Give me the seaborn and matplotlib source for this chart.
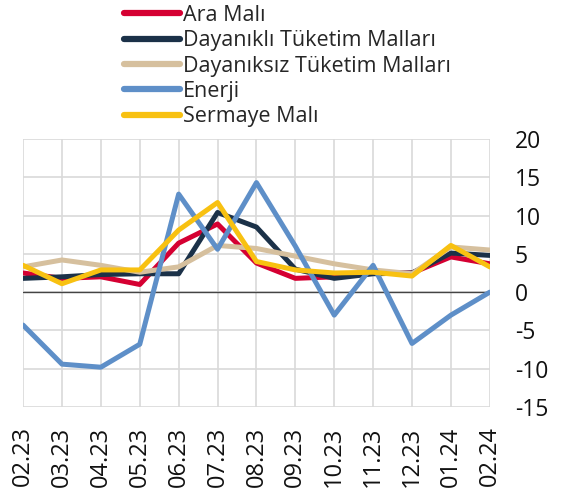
import pandas as pd
import matplotlib.pyplot as plt
import seaborn as sns

months = ['02.23', '03.23', '04.23', '05.23', '06.23', '07.23', '08.23',
          '09.23', '10.23', '11.23', '12.23', '01.24', '02.24']

ara_mali = [2.5, 1.8, 2.0, 1.0, 6.4, 8.9, 3.8, 1.8, 2.0, 2.5, 2.5, 4.6, 3.7]
dayanikli = [1.8, 2.0, 2.3, 2.4, 2.4, 10.4, 8.5, 3.0, 1.8, 2.4, 2.5, 5.1, 4.8]
dayaniksiz = [3.3, 4.2, 3.5, 2.6, 3.3, 6.1, 5.7, 4.7, 3.7, 2.9, 2.4, 5.9, 5.5]
enerji = [-4.3, -9.4, -9.8, -6.8, 12.8, 5.6, 14.3, 6.0, -3.0, 3.5, -6.7, -3.0, 0.0]
sermaye = [3.5, 1.1, 2.9, 2.9, 8.1, 11.7, 4.0, 2.9, 2.5, 2.6, 2.1, 6.1, 3.3]

series = {
    'Ara Malı': ara_mali,
    'Dayanıklı Tüketim Malları': dayanikli,
    'Dayanıksız Tüketim Malları': dayaniksiz,
    'Enerji': enerji,
    'Sermaye Malı': sermaye,
}
colors = ['#D50032', '#1B3148', '#D6C09E', '#5E8FC8', '#F8C111']

rows = []
for name, vals in series.items():
    for i, v in enumerate(vals):
        rows.append({'idx': i, 'value': v, 'series': name})
df = pd.DataFrame(rows)

sns.set_style('white')
plt.rcParams['font.family'] = ['Open Sans', 'DejaVu Sans']

fig = plt.figure(figsize=(5.63, 4.91), dpi=100)
ax = fig.add_axes([0.041, 0.171, 0.829, 0.546])

sns.lineplot(data=df, x='idx', y='value', hue='series', palette=colors,
             linewidth=3.6, ax=ax, legend=False)

ax.axhline(0, color='#444444', linewidth=1.0, zorder=1)
ax.set_xlim(0, 12)
ax.set_ylim(-15, 20)
ax.set_xticks(range(len(months)))
ax.set_xticklabels(months, rotation=90, fontsize=17)
ax.set_yticks(range(-15, 21, 5))
ax.set_yticklabels([str(t) for t in range(-15, 21, 5)], fontsize=16.5)
ax.yaxis.tick_right()
ax.tick_params(axis='y', length=0, pad=18, colors='#111111')
ax.tick_params(axis='x', length=0, pad=14, colors='#111111')
ax.grid(True, color='#D9D9D9', linewidth=1.2)
ax.set_axisbelow(True)
for s in ax.spines.values():
    s.set_visible(False)
ax.set_xlabel('')
ax.set_ylabel('')

handles = [plt.Line2D([], [], color=c, linewidth=4.5, solid_capstyle='round')
           for c in colors]
fig.legend(handles, list(series.keys()), loc='upper left',
           bbox_to_anchor=(0.22, 0.99), frameon=False, fontsize=15.5,
           handlelength=2.6, handletextpad=0.15, labelspacing=0.2,
           borderaxespad=0, borderpad=0)

fig.savefig('out.png', dpi=100)
